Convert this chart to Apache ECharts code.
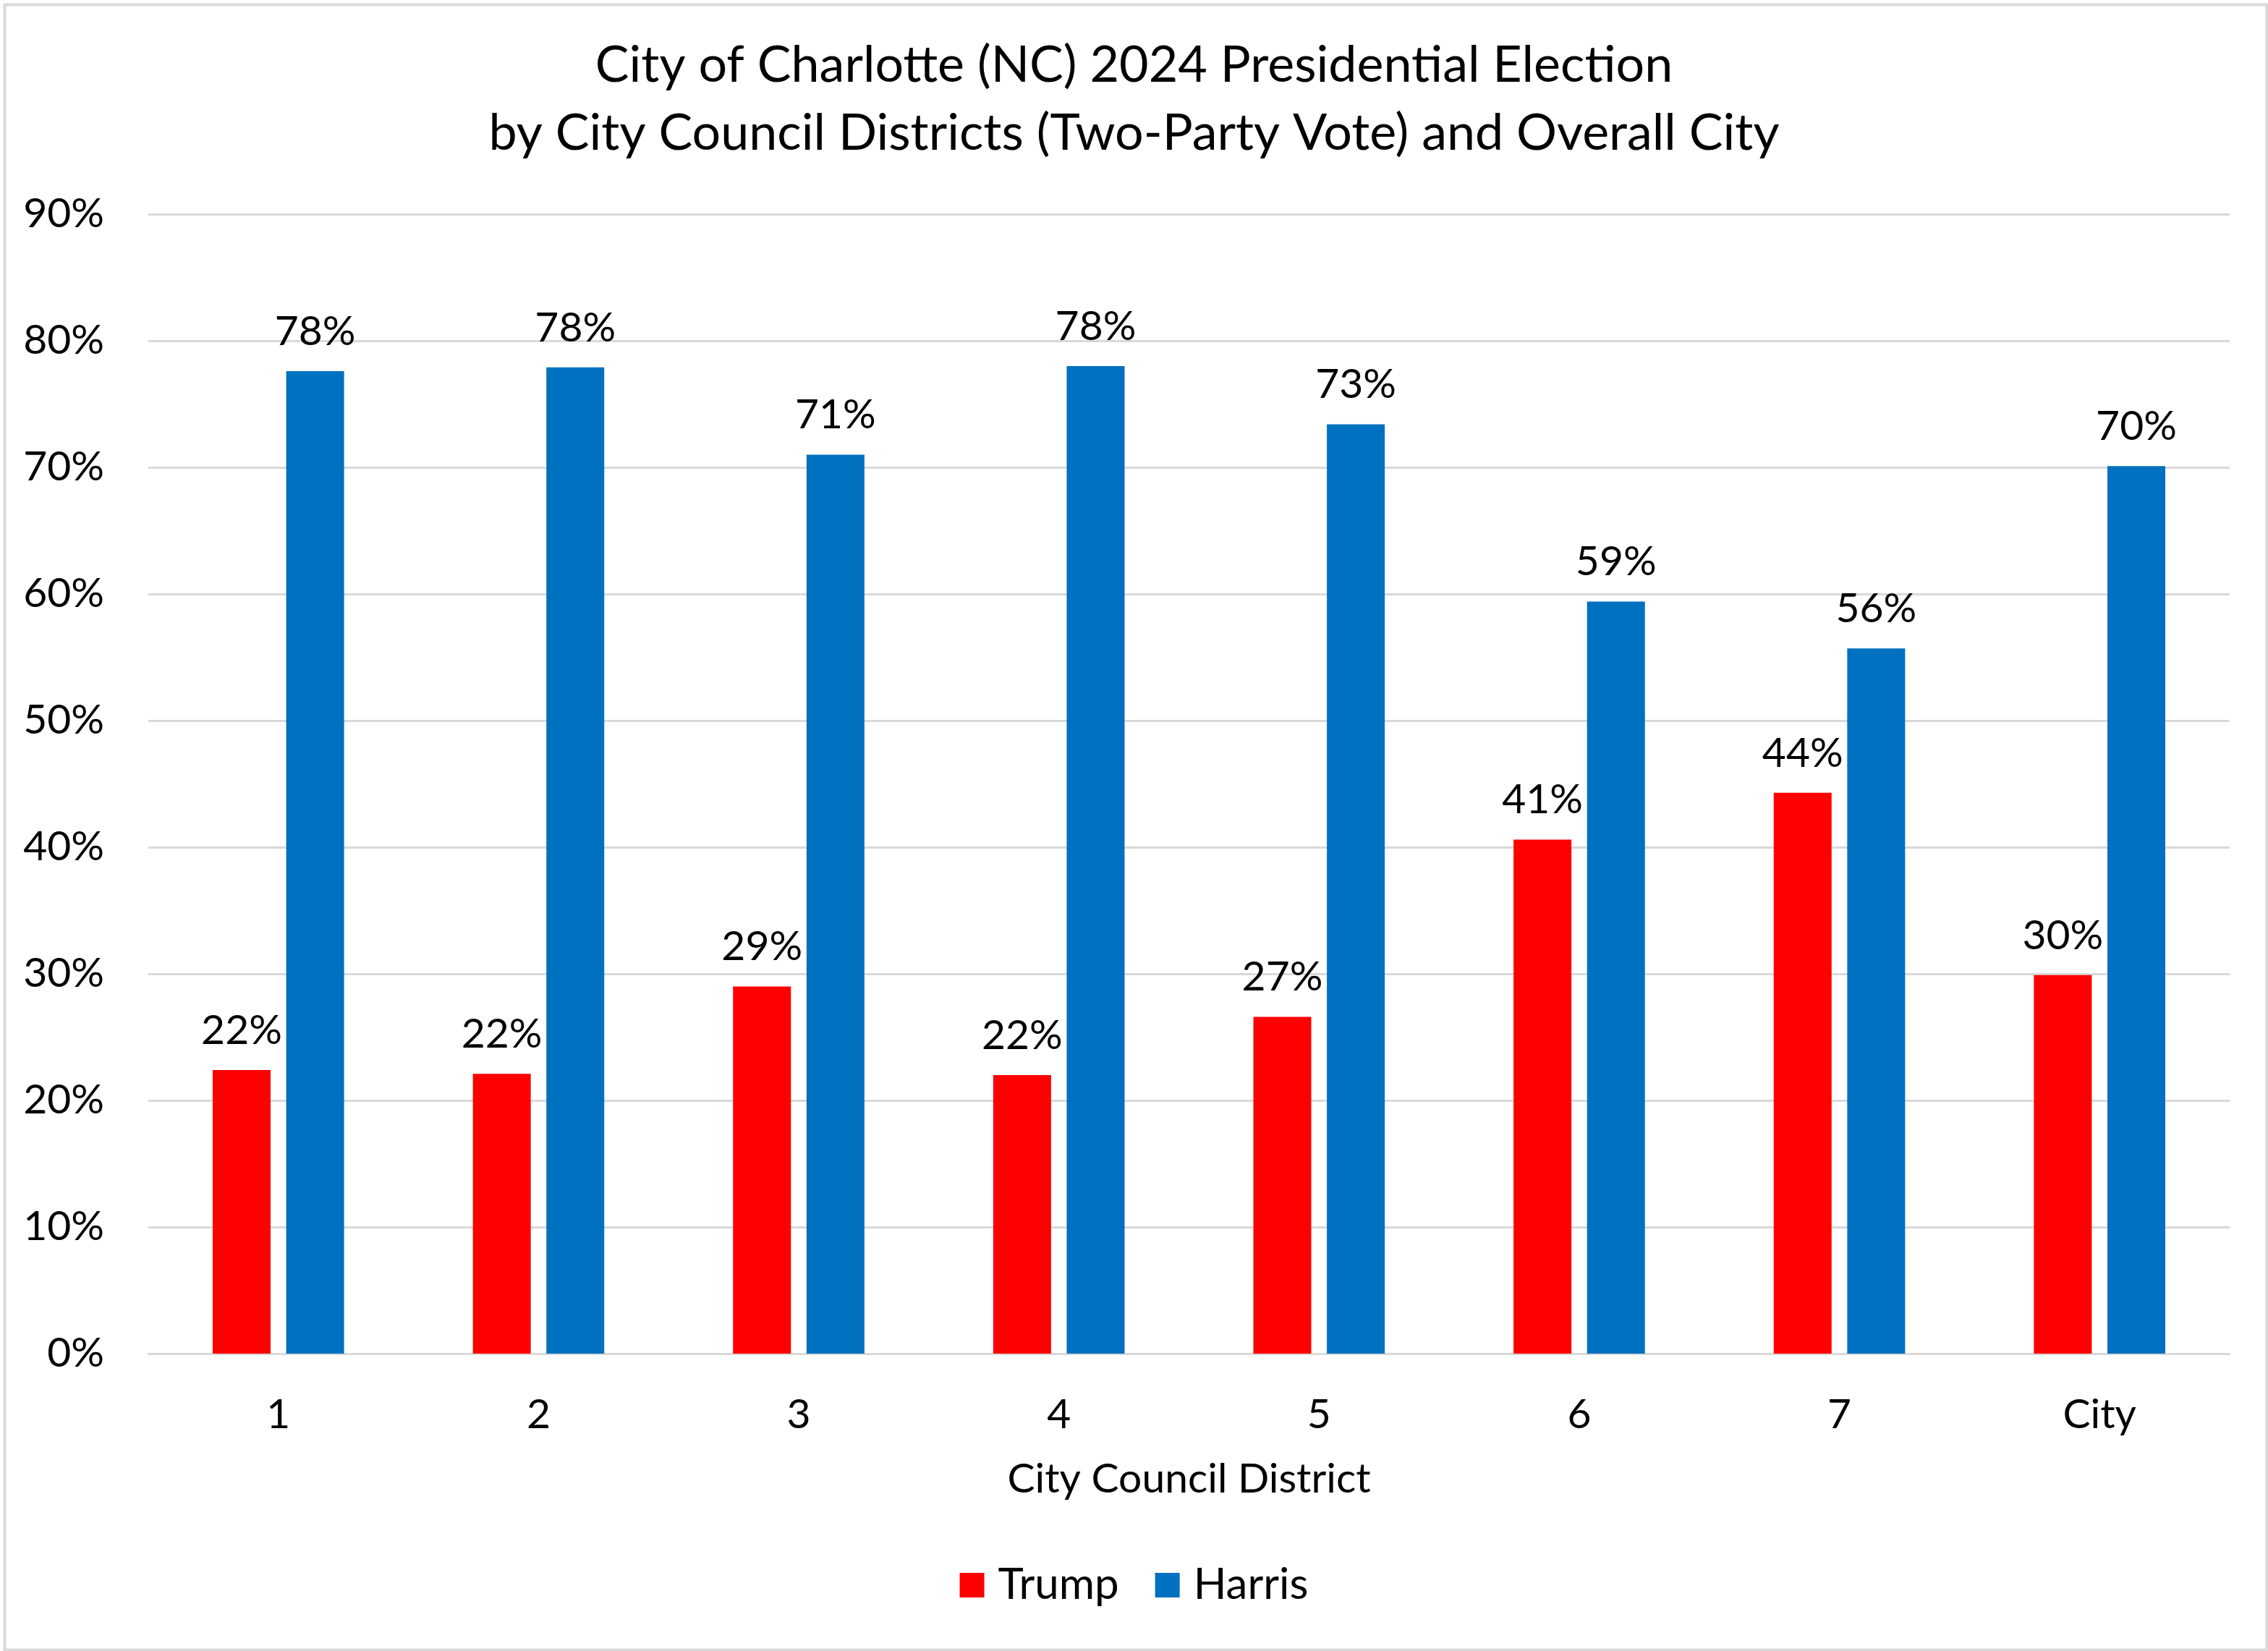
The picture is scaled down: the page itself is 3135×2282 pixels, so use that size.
<!DOCTYPE html>
<html>
<head>
<meta charset="utf-8">
<script src="https://cdn.jsdelivr.net/npm/echarts@6/dist/echarts.min.js"></script>
<style>
html,body{margin:0;padding:0;background:#fff;}
#chart{width:3135px;height:2282px;}
</style>
</head>
<body>
<div id="chart"></div>
<script>
const categories = ['1','2','3','4','5','6','7','City'];
const trump = [22.4, 22.1, 29.0, 22.0, 26.6, 40.6, 44.3, 29.9];
const harris = [77.6, 77.9, 71.0, 78.0, 73.4, 59.4, 55.7, 70.1];
const titleLines = ['City of Charlotte (NC) 2024 Presidential Election', 'by City Council Districts (Two-Party Vote) and Overall City'];
const xAxisName = 'City Council District';

const FONT = 'Lato, "Open Sans", sans-serif';
const chart = echarts.init(document.getElementById('chart'));
const labelCfg = {
  show: true, position: 'top', distance: 26,
  fontFamily: FONT, fontSize: 57, color: '#000',
  formatter: p => Math.round(p.value) + '%'
};
chart.setOption({
  backgroundColor: '#fff',
  animation: false,
  graphic: [{
    type: 'rect', left: 4, top: 4,
    shape: {width: 3127, height: 2274},
    style: {fill: 'none', stroke: '#d9d9d9', lineWidth: 4}
  }],
  title: {
    text: titleLines.join('\n'),
    left: 'center', top: 38,
    textStyle: {fontFamily: FONT, fontSize: 70, fontWeight: 'normal', color: '#000', lineHeight: 94}
  },
  legend: {
    data: ['Trump', 'Harris'],
    bottom: 56, left: 'center',
    itemWidth: 34, itemHeight: 34, itemGap: 50,
    icon: 'rect',
    textStyle: {fontFamily: FONT, fontSize: 60, color: '#000', padding: [0, 0, 0, 14]}
  },
  grid: {left: 205, right: 53, top: 296, bottom: 411, containLabel: false},
  xAxis: {
    type: 'category', data: categories,
    name: xAxisName, nameLocation: 'middle', nameGap: 145,
    nameTextStyle: {fontFamily: FONT, fontSize: 57, color: '#000'},
    axisLine: {show: true, lineStyle: {color: '#d9d9d9', width: 3}},
    axisTick: {show: false},
    axisLabel: {fontFamily: FONT, fontSize: 57, color: '#000', margin: 56}
  },
  yAxis: {
    type: 'value', min: 0, max: 90, interval: 10,
    axisLine: {show: false}, axisTick: {show: false},
    splitLine: {lineStyle: {color: '#d9d9d9', width: 3}},
    axisLabel: {fontFamily: FONT, fontSize: 57, color: '#000', margin: 61, formatter: v => v + '%'}
  },
  series: [
    {name: 'Trump', type: 'bar', data: trump, barWidth: 80, barGap: '27%',
     itemStyle: {color: '#ff0000'}, label: labelCfg},
    {name: 'Harris', type: 'bar', data: harris, barWidth: 80,
     itemStyle: {color: '#0070c0'}, label: labelCfg}
  ]
});
</script>
</body>
</html>
